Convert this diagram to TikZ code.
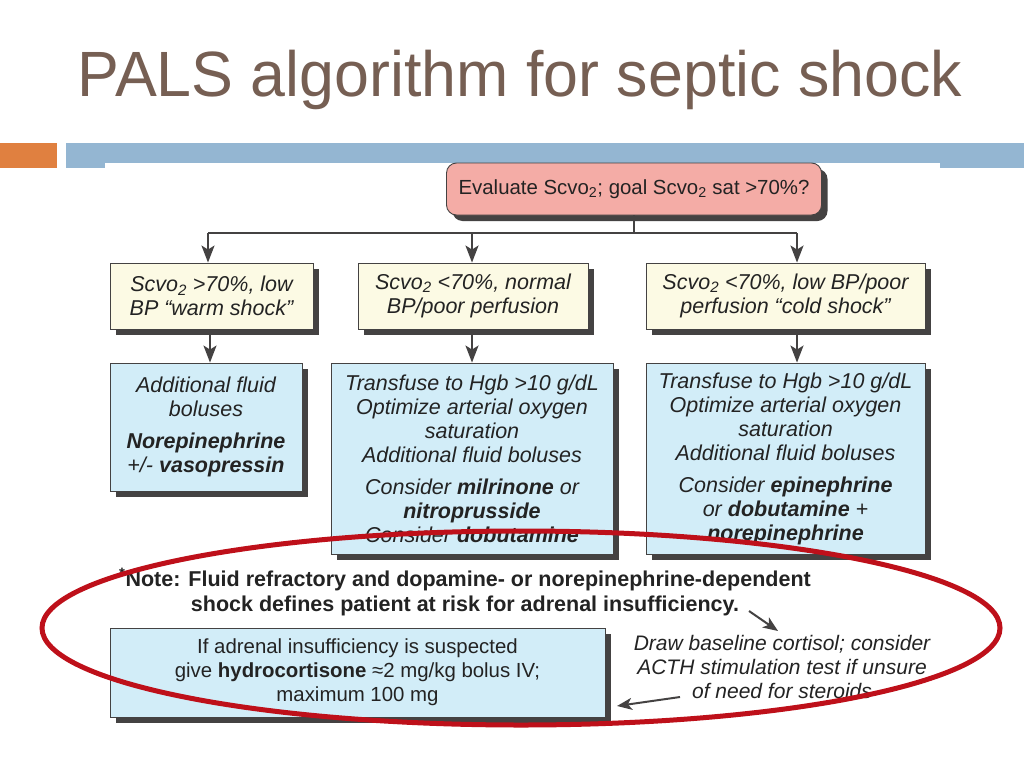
\documentclass[tikz,border=0pt]{standalone}
\usepackage{fontspec}
\setmainfont{Liberation Sans}
\usetikzlibrary{arrows.meta,shadows}
\definecolor{titlec}{RGB}{118,95,83}
\definecolor{barblue}{RGB}{148,182,210}
\definecolor{barorange}{RGB}{224,128,64}
\definecolor{pinkf}{RGB}{244,172,166}
\definecolor{creamf}{RGB}{252,250,228}
\definecolor{bluef}{RGB}{210,237,248}
\definecolor{shad}{RGB}{68,66,66}
\definecolor{ink}{RGB}{35,35,35}
\definecolor{ringred}{RGB}{190,16,26}
\tikzset{
  box/.style={draw=shad, line width=0.9pt, inner sep=0pt, align=center, text=ink,
    font=\fontsize{21.5}{24}\selectfont,
    drop shadow={shadow xshift=6pt, shadow yshift=-6pt, fill=shad, opacity=1}},
  pinkbox/.style={box, fill=pinkf, rounded corners=10pt, font=\fontsize{20.4}{24}\selectfont},
  creambox/.style={box, fill=creamf},
  bluebox/.style={box, fill=bluef},
  wire/.style={draw=shad, line width=2pt},
  arr/.style={draw=shad, line width=2pt, -{Stealth[length=17pt,width=13pt,inset=4pt]}},
  thinarr/.style={draw=shad, line width=2pt, -{Stealth[length=15pt,width=12pt,inset=4pt]}},
  plain/.style={align=center, text=ink, inner sep=0pt, font=\fontsize{21}{24}\selectfont},
  ring/.style={draw=ringred, line width=5pt}
}
\begin{document}
\begin{tikzpicture}[x=1pt,y=-1pt]
\useasboundingbox (0,0) rectangle (1024,768);
\fill[white] (0,0) rectangle (1024,768);
% title
\node[text=titlec, font=\fontsize{64}{70}\selectfont, inner sep=0pt, xscale=0.98] (title) at (520,80) {PALS algorithm for septic shock};
% bars
\fill[barorange] (0,143) rectangle (57,168);
\fill[barblue] (66,143) rectangle (1024,168);
\fill[white] (105,163) rectangle (940,768);
% top decision
\node[pinkbox, minimum width=375pt, minimum height=52pt] (top) at (634,189)
  {Evaluate Scvo\textsubscript{2}; goal Scvo\textsubscript{2} sat >70\%?};
% row 2
\node[creambox, minimum width=203pt, minimum height=66pt] (A) at (211.5,296)
  {\itshape Scvo\textsubscript{2} >70\%, low\\\itshape BP “warm shock”};
\node[creambox, minimum width=230pt, minimum height=66pt] (B) at (473,296)
  {\itshape Scvo\textsubscript{2} <70\%, normal\\\itshape BP/poor perfusion};
\node[creambox, minimum width=279pt, minimum height=66pt] (C) at (785.5,296)
  {\itshape Scvo\textsubscript{2} <70\%, low BP/poor\\\itshape perfusion “cold shock”};
% row 3
\node[bluebox, minimum width=192pt, minimum height=128pt] (D) at (206,427)
  {{\itshape Additional fluid}\\{\itshape boluses}\\[8pt]{\bfseries\itshape Norepinephrine}\\{\itshape +/- \textbf{vasopressin}}};
\node[bluebox, minimum width=282pt, minimum height=191pt] (E) at (472,458.5)
  {{\itshape Transfuse to Hgb >10 g/dL}\\{\itshape Optimize arterial oxygen}\\{\itshape saturation}\\{\itshape Additional fluid boluses}\\[8pt]{\itshape Consider \textbf{milrinone} or}\\{\bfseries\itshape nitroprusside}\\{\itshape Consider \textbf{dobutamine}}};
\node[bluebox, minimum width=279pt, minimum height=191pt] (F) at (785.5,458.5)
  {{\itshape Transfuse to Hgb >10 g/dL}\\{\itshape Optimize arterial oxygen}\\{\itshape saturation}\\{\itshape Additional fluid boluses}\\[8pt]{\itshape Consider \textbf{epinephrine}}\\{\itshape or \textbf{dobutamine} +}\\{\bfseries\itshape norepinephrine}};
% connectors from top
\coordinate (hl) at (208,233);
\coordinate (hm) at (472,233);
\coordinate (hr) at (797,233);
\draw[wire] (top.south) -- (top.south |- hl);
\draw[wire] (hl) -- (hr);
\draw[arr] (hl) -- (hl |- A.north);
\draw[arr] (hm) -- (hm |- B.north);
\draw[arr] (hr) -- (hr |- C.north);
% row 2 to row 3
\draw[arr] ([xshift=-1.5pt]A.south) -- ([xshift=-1.5pt]A.south |- D.north);
\draw[arr] ([xshift=-1pt]B.south) -- ([xshift=-1pt]B.south |- E.north);
\draw[arr] ([xshift=11.5pt]C.south) -- ([xshift=11.5pt]C.south |- F.north);
% note
\node[plain, font=\fontsize{21.5}{25}\selectfont\bfseries] (note) at (465,592)
  {\textsuperscript{*}Note: Fluid refractory and dopamine- or norepinephrine-dependent\\shock defines patient at risk for adrenal insufficiency.};
% hydrocortisone box
\node[bluebox, minimum width=495pt, minimum height=89pt, font=\fontsize{20.4}{24}\selectfont] (G) at (357.5,672.5)
  {If adrenal insufficiency is suspected\\give \textbf{hydrocortisone} ≈2 mg/kg bolus IV;\\maximum 100 mg};
% cortisol text
\node[plain, font=\fontsize{21}{24}\selectfont\itshape] (cort) at (782,667)
  {Draw baseline cortisol; consider\\ACTH stimulation test if unsure\\of need for steroids};
\coordinate (n1) at (749,611);
\coordinate (n2) at (778,631);
\draw[thinarr] (n1) -- (n2);
\coordinate (c1) at (680,697);
\coordinate (c2) at (617,706);
\draw[thinarr] (c1) -- (c2);
% red ring
\draw[ring] (521,628) ellipse [x radius=479, y radius=97];
\end{tikzpicture}
\end{document}
